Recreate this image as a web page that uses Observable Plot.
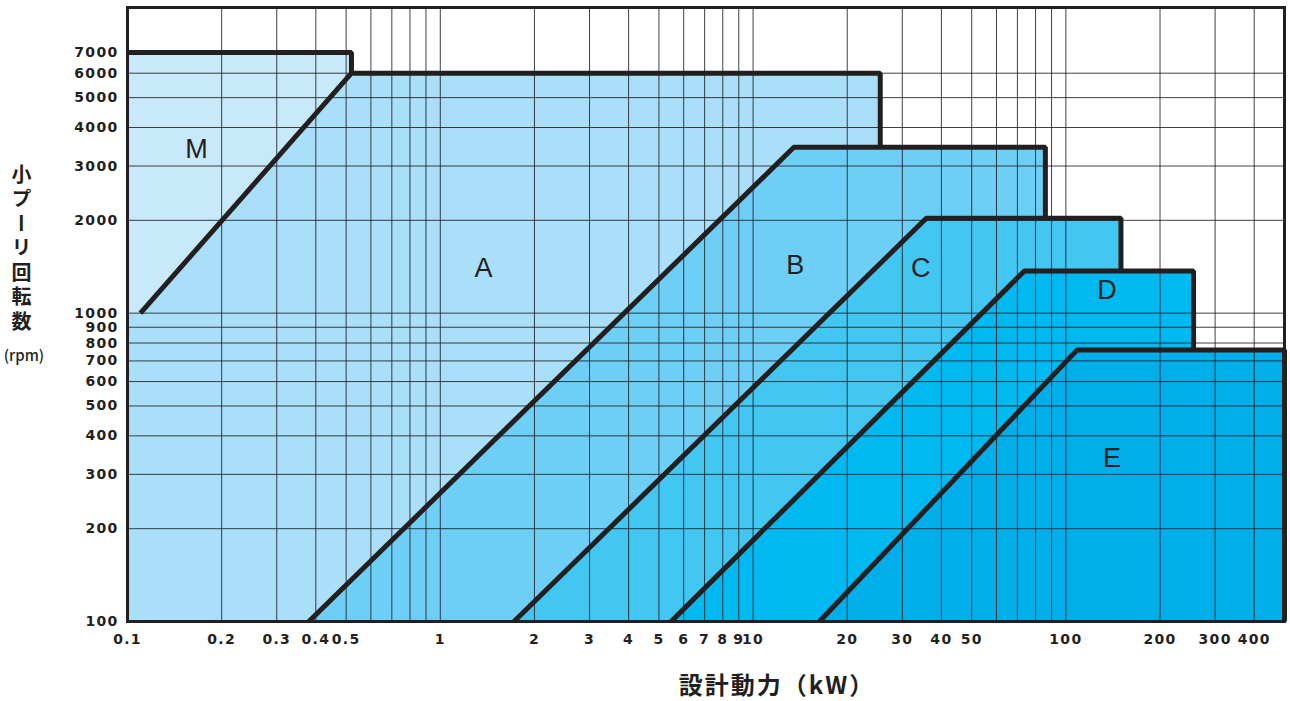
<!DOCTYPE html>
<html>
<head>
<meta charset="utf-8">
<script src="https://cdn.jsdelivr.net/npm/d3@7"></script>
<script src="https://cdn.jsdelivr.net/npm/@observablehq/plot@0.6"></script>
<style>
  body { margin: 0; background: #fff; }
  #wrap { position: relative; width: 1290px; height: 701px; }
  #ytitle { position: absolute; left: 8px; top: 164px; width: 28px;
    writing-mode: vertical-rl; text-orientation: upright;
    font-family: "Noto Sans CJK JP"; font-weight: bold; font-size: 20px; letter-spacing: 4.5px; color: #231f20; }
  #yunit { position: absolute; left: 0px; top: 344px; width: 48px; text-align: center;
    font-family: "Noto Sans CJK JP"; font-size: 15px; font-weight: 500; color: #231f20; }
  #xtitle { position: absolute; left: 627px; top: 669px; width: 300px; text-align: center;
    font-family: "Noto Sans CJK JP"; font-weight: bold; font-size: 24px; letter-spacing: 2px; color: #231f20; line-height: 30px; }
</style>
</head>
<body>
<div id="wrap">
  <div id="ytitle">小プーリ回転数</div>
  <div id="yunit">(rpm)</div>
  <div id="xtitle">設計動力（kW）</div>
</div>
<script>
// ---- data ----
const zones = ["M", "A", "B", "C", "D", "E"];
const zoneTopRpm = [7000, 6000, 3450, 2030, 1370, 760];
const zoneRightKW = [0.52, 25.5, 86, 150, 256, 500];
const diagLowKW = [null, 0.11, 0.38, 1.72, 5.47, 16.3];
const diagLowRpm = [null, 1000, 100, 100, 100, 100];
const diagHighKW = [null, 0.52, 13.5, 35.8, 73.7, 108.7];
const labelKW = [0.167, 1.38, 13.7, 34.5, 136, 141];
const labelRpm = [3400, 1400, 1430, 1400, 1185, 338];

const kwTicks = [0.1, 0.2, 0.3, 0.4, 0.5, 1, 2, 3, 4, 5, 6, 7, 8, 9, 10, 20, 30, 40, 50, 100, 200, 300, 400];
const rpmTicks = [100, 200, 300, 400, 500, 600, 700, 800, 900, 1000, 2000, 3000, 4000, 5000, 6000, 7000];
const kwGrid = [0.2, 0.3, 0.4, 0.5, 0.6, 0.7, 0.8, 0.9, 1, 2, 3, 4, 5, 6, 7, 8, 9, 10, 20, 30, 40, 50, 60, 70, 80, 90, 100, 200, 300, 400];
const rpmGrid = [200, 300, 400, 500, 600, 700, 800, 900, 1000, 2000, 3000, 4000, 5000, 6000];

const kwMin = 0.1, kwMax = 500, rpmMin = 100, rpmMax = 9800;
const palette = ["#c8e9f9", "#a9dff8", "#6dcff5", "#42c6f2", "#00b9f0", "#00aeea"];
const ink = "#231f20";

// ---- derived tables ----
function fillRows(i) {
  const rows = [];
  if (diagLowKW[i] === null) {
    rows.push({kw: kwMin, rpm: zoneTopRpm[i]});
  } else {
    if (diagLowRpm[i] > rpmMin) rows.push({kw: kwMin, rpm: diagLowRpm[i]});
    rows.push({kw: diagLowKW[i], rpm: diagLowRpm[i]});
    rows.push({kw: diagHighKW[i], rpm: zoneTopRpm[i]});
  }
  rows.push({kw: zoneRightKW[i], rpm: zoneTopRpm[i]});
  return rows;
}
function outlineRows(i) {
  const rows = [];
  if (diagLowKW[i] === null) {
    rows.push({kw: kwMin, rpm: zoneTopRpm[i]});
  } else {
    rows.push({kw: diagLowKW[i], rpm: diagLowRpm[i]});
    rows.push({kw: diagHighKW[i], rpm: zoneTopRpm[i]});
  }
  rows.push({kw: zoneRightKW[i], rpm: zoneTopRpm[i]});
  const next = i + 1 < zones.length ? zoneTopRpm[i + 1] : rpmMin;
  rows.push({kw: zoneRightKW[i], rpm: next});
  return rows;
}

const tickText = {fontSize: 14, fontWeight: "bold", fill: ink};
const marks = [];
zones.forEach((z, i) => {
  marks.push(Plot.areaY(fillRows(i), {x: "kw", y1: () => rpmMin, y2: "rpm", fill: palette[i]}));
});
marks.push(Plot.ruleX(kwGrid, {stroke: ink, strokeWidth: 1, strokeOpacity: 0.85}));
marks.push(Plot.ruleY(rpmGrid, {stroke: ink, strokeWidth: 1, strokeOpacity: 0.85}));
zones.forEach((z, i) => {
  marks.push(Plot.line(outlineRows(i), {x: "kw", y: "rpm", stroke: ink, strokeWidth: 5,
    strokeLinejoin: "miter", strokeLinecap: "butt"}));
});
marks.push(Plot.text(zones, {x: (d, i) => labelKW[i], y: (d, i) => labelRpm[i], text: d => d,
  fontSize: 27, fontFamily: "Liberation Sans", fill: ink}));
marks.push(Plot.text(kwTicks, {x: d => d, text: d => String(d), frameAnchor: "bottom",
  lineAnchor: "top", dy: 13, ...tickText}));
marks.push(Plot.text(rpmTicks, {y: d => d, text: d => String(d), frameAnchor: "left",
  textAnchor: "end", dx: -9, ...tickText}));
marks.push(Plot.frame({stroke: ink, strokeWidth: 3}));

const chart = Plot.plot({
  width: 1290, height: 701,
  marginLeft: 127, marginRight: 6, marginTop: 7, marginBottom: 80,
  x: {type: "log", domain: [kwMin, kwMax], axis: null},
  y: {type: "log", domain: [rpmMin, rpmMax], axis: null},
  style: {fontFamily: "DejaVu Sans", background: "white", color: ink, letterSpacing: "1.3px", overflow: "visible"},
  marks
});
document.getElementById("wrap").prepend(chart);
</script>
</body>
</html>
